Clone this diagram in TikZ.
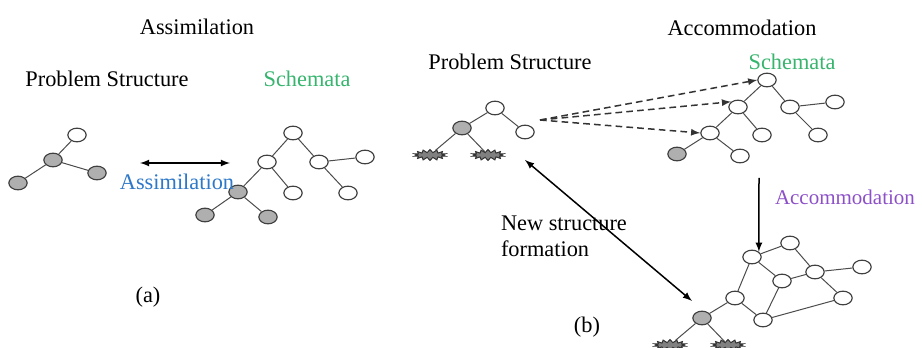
\documentclass[tikz,border=0pt]{standalone}
\usepackage{fontspec}
\setmainfont{Liberation Serif}
\newfontfamily\tmsfont{Liberation Serif}
\usetikzlibrary{shapes.geometric,shapes.symbols}
\definecolor{schgreen}{RGB}{55,180,110}
\definecolor{asblue}{RGB}{45,120,200}
\definecolor{acpurple}{RGB}{140,80,200}
\definecolor{vgray}{RGB}{175,175,175}
\tikzset{
  vert/.style={ellipse, draw=black!75, line width=0.7pt, fill=white, inner sep=0pt, minimum width=11pt, minimum height=8.2pt},
  gvert/.style={vert, fill=vgray},
  burst/.style={starburst, starburst points=14, starburst point height=1.8pt, random starburst=0, draw=black!80, fill=black!50, line width=0.6pt, inner sep=0pt, minimum width=19pt, minimum height=6.5pt},
  edge/.style={draw=black!70, line width=0.6pt},
  arr/.style={line width=0.9pt},
  lbl/.style={font=\tmsfont\fontsize{13.4}{15.5}\selectfont, inner sep=1pt},
}
\begin{document}
\begin{tikzpicture}[x=0.6pt, y=-0.6pt]
    \useasboundingbox (0, 0) rectangle (922, 348);

    \node[lbl] (ttla) at (197, 27) {Assimilation};
    \node[lbl] (psa) at (107, 79) {Problem Structure};
    \node[lbl, text=schgreen] (scha) at (307, 79) {Schemata};
    \node[lbl] (capa) at (148, 297) {(a)};

    \node[vert] (pa1) at (77, 135) {};
    \node[gvert] (pa2) at (53, 160) {};
    \node[gvert] (pa3) at (97, 173) {};
    \node[gvert] (pa4) at (18, 183) {};
    \draw[edge] (pa2) -- (pa1) (pa2) -- (pa3) (pa2) -- (pa4);

    \node[vert] (sa1) at (293, 133) {};
    \node[vert] (sa2) at (267, 162) {};
    \node[vert] (sa3) at (319, 162) {};
    \node[vert] (sa4) at (365, 157) {};
    \node[gvert] (sa5) at (238, 192) {};
    \node[vert] (sa6) at (293, 193) {};
    \node[vert] (sa7) at (348, 193) {};
    \node[gvert] (sa8) at (205, 215) {};
    \node[gvert] (sa9) at (268, 217) {};
    \draw[edge] (sa1) -- (sa2) (sa1) -- (sa3) (sa3) -- (sa4) (sa2) -- (sa5) (sa2) -- (sa6)
        (sa3) -- (sa7) (sa5) -- (sa8) (sa5) -- (sa9);

    \coordinate (asl) at (140, 163);
    \coordinate (asr) at (230, 163);
    \draw[arr, latex-latex] (asl) -- (asr);
    \node[lbl, text=asblue] (asm) at (177, 182) {Assimilation};

    \node[lbl] (ttlb) at (742, 28) {Accommodation};
    \node[lbl] (psb) at (510, 62) {Problem Structure};
    \node[lbl, text=schgreen] (schb) at (792, 62) {Schemata};
    \node[lbl] (capb) at (587, 327) {(b)};

    \node[vert] (pb1) at (495, 108) {};
    \node[gvert] (pb2) at (462, 128) {};
    \node[vert] (pb3) at (525, 132) {};
    \node[burst] (pb4) at (430, 155) {};
    \node[burst] (pb5) at (488, 155) {};
    \draw[edge] (pb1) -- (pb2) (pb1) -- (pb3) (pb2) -- (pb4) (pb2) -- (pb5);

    \node[vert] (sb1) at (767, 80) {};
    \node[vert] (sb2) at (738, 107) {};
    \node[vert] (sb3) at (790, 107) {};
    \node[vert] (sb4) at (835, 102) {};
    \node[vert] (sb5) at (710, 133) {};
    \node[vert] (sb6) at (762, 135) {};
    \node[vert] (sb7) at (818, 135) {};
    \node[gvert] (sb8) at (677, 154) {};
    \node[vert] (sb9) at (740, 156) {};
    \draw[edge] (sb1) -- (sb2) (sb1) -- (sb3) (sb3) -- (sb4) (sb2) -- (sb5) (sb2) -- (sb6)
        (sb3) -- (sb7) (sb5) -- (sb8) (sb5) -- (sb9);

    \coordinate (dsh) at (540, 120);
    \draw[arr, dash pattern=on 4pt off 2.5pt, black!80, -latex] (dsh) -- (sb1.west);
    \draw[arr, dash pattern=on 4pt off 2.5pt, black!80, -latex] (dsh) -- (sb2.north west);
    \draw[arr, dash pattern=on 4pt off 2.5pt, black!80, -latex] (dsh) -- (sb5.west);

    \node[gvert] (nb0) at (702, 318) {};
    \node[vert] (nb1) at (735, 298) {};
    \node[vert] (nb2) at (752, 257) {};
    \node[vert] (nb3) at (790, 243) {};
    \node[vert] (nb4) at (782, 281) {};
    \node[vert] (nb5) at (815, 272) {};
    \node[vert] (nb6) at (862, 267) {};
    \node[vert] (nb7) at (843, 298) {};
    \node[vert] (nb8) at (763, 320) {};
    \node[burst] (nb9) at (670, 345) {};
    \node[burst] (nb10) at (728, 345) {};
    \draw[edge] (nb0) -- (nb1) (nb1) -- (nb2) (nb1) -- (nb8) (nb2) -- (nb3) (nb2) -- (nb4)
        (nb3) -- (nb5) (nb4) -- (nb5) (nb5) -- (nb6) (nb5) -- (nb7) (nb4) -- (nb8)
        (nb8) -- (nb7) (nb0) -- (nb9) (nb0) -- (nb10);

    \coordinate (acs) at (759, 178);
    \draw[arr, -latex] (acs) -- (nb2.north east);
    \node[lbl, text=acpurple, anchor=west, font=\tmsfont\fontsize{12.6}{15}\selectfont] (acm) at (773, 197) {Accommodation};

    \coordinate (nst) at (525, 160);
    \coordinate (nsb) at (692, 301);
    \draw[arr, latex-latex] (nst) -- (nsb);
    \node[lbl, anchor=west, align=left] (nsf) at (499, 236) {New structure\\formation};
\end{tikzpicture}
\end{document}
